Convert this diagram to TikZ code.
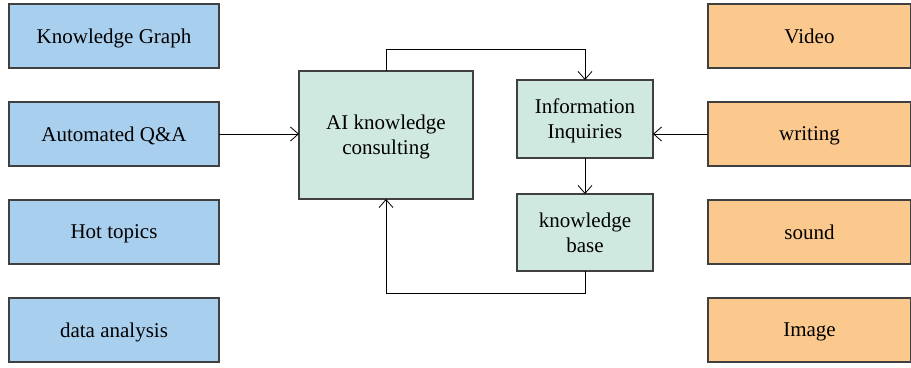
\documentclass[tikz,border=0pt]{standalone}
\usepackage{fontspec}
\setmainfont{Liberation Serif}
\usetikzlibrary{arrows.meta,chains,positioning,scopes}

\begin{document}
\begin{tikzpicture}
      [
        x = 0.5pt, y = -0.5pt,
        -{Straight Barb[length = 4pt, width = 7pt]},
        font = \fontsize{10.5}{12.5}\selectfont,
        node distance = 17pt,
        BaseBlock/.style={draw=black!75, line width=0.6pt, align=center, outer sep=0pt, text depth=0pt},
        UseBlock/.style={BaseBlock, fill={rgb,255:red,169;green,207;blue,238}, minimum width=105pt, minimum height=32pt, on chain},
        MediaBlock/.style={BaseBlock, fill={rgb,255:red,251;green,201;blue,141}, minimum width=101.5pt, minimum height=32pt, on chain},
        CoreBlock/.style={BaseBlock, fill={rgb,255:red,208;green,233;blue,224}},
      ]

      \useasboundingbox (0,0) rectangle (911,368);

      % left column
      { [start chain = left going below]
      \node [UseBlock] at (114,36) (kg) {Knowledge Graph};
      \node [UseBlock] (qa) {Automated Q\&A};
      \node [UseBlock] (hot) {Hot topics};
      \node [UseBlock] (data) {data analysis};
      }

      % right column
      { [start chain = right going below]
      \node [MediaBlock] at (809.5,36) (video) {Video};
      \node [MediaBlock] (writing) {writing};
      \node [MediaBlock] (sound) {sound};
      \node [MediaBlock] (image) {Image};
      }

      % middle
      \node [CoreBlock, minimum width=87pt, minimum height=64pt] at (386,135) (ai) {AI knowledge\\consulting};
      \node [CoreBlock, minimum width=68pt, minimum height=39pt] at (585,119) (info) {Information\\Inquiries};
      \node [CoreBlock, minimum width=68pt, minimum height=38.5pt, below=18pt of info] (kb) {knowledge\\base};

      \coordinate (top) at (386,49);
      \coordinate (bot) at (386,293);

      \draw (qa.east) -- (qa.east -| ai.west);
      \draw (writing.west) -- (writing.west -| info.east);
      \draw (info.south) -- (kb.north);
      \draw (ai.north) |- (top) -| (info.north);
      \draw (kb.south) |- (bot) -- (ai.south);
    \end{tikzpicture}
\end{document}
